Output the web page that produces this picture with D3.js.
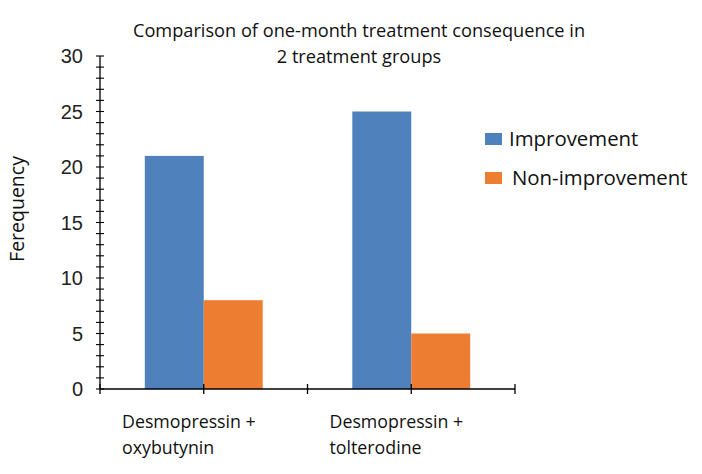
<!DOCTYPE html>
<html><head><meta charset="utf-8">
<script src="https://cdn.jsdelivr.net/npm/d3@7"></script>
<style>body{margin:0;background:#fff}svg{display:block}</style>
</head><body><svg id="c" width="702" height="474"></svg>
<script>
const categories = [["Desmopressin +","oxybutynin"],["Desmopressin +","tolterodine"]];
const seriesNames = ["Improvement","Non-improvement"];
const improvement = [21, 25];
const nonImprovement = [8, 5];
const yTicks = [0,5,10,15,20,25,30];
const colors = ["#4F81BD","#ED7D31"];

const svg = d3.select("#c");
const x0 = 100, x1 = 515, yTop = 56, yBot = 389;
const x = d3.scaleBand().domain([0,1]).range([x0, x1]);
const xs = d3.scaleBand().domain([0,1]).range([0, x.bandwidth()]).paddingInner(0).paddingOuter(0.76);
const y = d3.scaleLinear().domain([0,30]).range([yBot, yTop]);

const data = [improvement, nonImprovement];
categories.forEach((c,i)=>{
  data.forEach((s,j)=>{
    svg.append("rect")
      .attr("x", x(i)+xs(j)).attr("width", xs.bandwidth())
      .attr("y", y(s[i])).attr("height", y(0)-y(s[i]))
      .attr("fill", colors[j]);
  });
});

// y axis
const ya = svg.append("g");
ya.append("line").attr("x1",x0).attr("x2",x0).attr("y1",y(30)).attr("y2",y(0)).attr("stroke","#000").attr("stroke-width",1.3);
d3.range(0,31).forEach(v=>{
  ya.append("line").attr("x1",x0-4).attr("x2",x0+4).attr("y1",y(v)).attr("y2",y(v)).attr("stroke","#000").attr("stroke-width",1.1);
});
yTicks.forEach(v=>{
  ya.append("text").attr("x",x0-17).attr("y",y(v)).attr("dy","0.35em").attr("text-anchor","end")
    .attr("font-family","Liberation Sans, Arial, sans-serif").attr("font-size",20).attr("fill","#222").text(v);
});

// x axis
const xa = svg.append("g");
xa.append("line").attr("x1",x0).attr("x2",x1).attr("y1",yBot).attr("y2",yBot).attr("stroke","#000").attr("stroke-width",1.3);
const xt = [x0, x(0)+x.bandwidth()/2, x(1), x(1)+x.bandwidth()/2, x1];
xt.forEach(t=>{
  xa.append("line").attr("x1",t).attr("x2",t).attr("y1",yBot-5).attr("y2",yBot+5).attr("stroke","#000").attr("stroke-width",1.3);
});
categories.forEach((c,i)=>{
  const t = xa.append("text").attr("x", x(i)+22).attr("y", 428)
    .attr("font-family","Open Sans, sans-serif").attr("font-size",17.8).attr("fill","#111");
  c.forEach((l,k)=> t.append("tspan").attr("x", x(i)+22).attr("dy", k? 26:0).text(l));
});

// y label
svg.append("text").attr("transform","translate(24,209) rotate(-90)").attr("text-anchor","middle")
  .attr("font-family","Open Sans, sans-serif").attr("font-size",19.5).attr("fill","#111").text("Ferequency");

// title
const title = svg.append("text").attr("text-anchor","middle")
  .attr("font-family","Open Sans, sans-serif").attr("font-size",18.2).attr("fill","#111");
title.append("tspan").attr("x",359).attr("y",37).text("Comparison of one-month treatment consequence in");
title.append("tspan").attr("x",359).attr("y",63).text("2 treatment groups");

// legend
seriesNames.forEach((n,j)=>{
  const ly = 133 + j*39;
  svg.append("rect").attr("x",485).attr("y",ly).attr("width",17).attr("height",12).attr("fill",colors[j]);
  svg.append("text").attr("x",509+j*3).attr("y",ly+6).attr("dy","0.35em")
    .attr("font-family","Open Sans, sans-serif").attr("font-size",20.4).attr("fill","#111").text(n);
});
</script></body></html>
